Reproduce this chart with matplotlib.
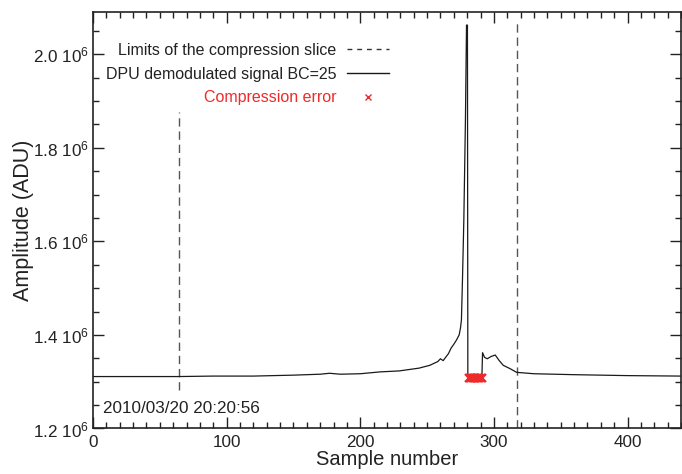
import numpy as np
import matplotlib
matplotlib.use('Agg')
import matplotlib.pyplot as plt
from matplotlib.ticker import MultipleLocator, FuncFormatter

plt.rcParams['font.family'] = ['Liberation Sans', 'DejaVu Sans']
plt.rcParams['mathtext.fontset'] = 'custom'
plt.rcParams['mathtext.rm'] = 'Liberation Sans'
plt.rcParams['mathtext.default'] = 'regular'

# DPU demodulated signal (amplitude in 1e6 ADU)
sample = [0, 20, 40, 64, 90, 120, 150, 170, 177, 185, 200, 215, 229, 244,
          252, 258, 260, 262, 266, 268, 270, 272, 274, 275, 275.7, 276.5,
          277.5, 278.7, 279.5, 280.2, 280.5, 291, 291.5, 293, 295, 298, 301,
          304, 307, 312, 317, 330, 360, 400, 440]
amp = [1.311, 1.311, 1.311, 1.311, 1.312, 1.312, 1.314, 1.316, 1.318, 1.316,
       1.317, 1.321, 1.323, 1.329, 1.335, 1.343, 1.349, 1.345, 1.360, 1.372,
       1.380, 1.389, 1.400, 1.415, 1.432, 1.52, 1.646, 1.86, 2.062, 2.062,
       1.308, 1.308, 1.362, 1.352, 1.349, 1.354, 1.357, 1.345, 1.335, 1.328,
       1.320, 1.317, 1.315, 1.313, 1.312]

# samples flagged with a compression error
err_sample = [281, 282, 283, 284, 285, 286, 287, 288, 289, 290, 291]
err_amp = [1.308, 1.308, 1.308, 1.308, 1.308, 1.308, 1.308, 1.308, 1.308, 1.308, 1.308]

# limits of the compression slice
slice_lo, slice_hi = 64, 317

amp = np.array(amp) * 1e6
err_amp = np.array(err_amp) * 1e6

txt = '#222222'
fig = plt.figure(figsize=(6.82, 4.74), dpi=100)
ax = fig.add_axes([0.1364, 0.096, 0.8621, 0.8787])

ax.vlines(slice_lo, 1.282e6, 1.877e6, color='#555555', lw=1.0,
          linestyles=(0, (6, 3.5)))
ax.vlines(slice_hi, 1.2e6, 2.075e6, color='#555555', lw=1.0,
          linestyles=(0, (6, 3.5)))
ax.plot(sample, amp, color='#1a1a1a', lw=0.9)
ax.plot(err_sample, err_amp, ls='none', marker='x', color='#ee2a2a',
        ms=5.5, mew=1.6)

# legend handles
h1, = ax.plot([], [], color='#333333', lw=1.0, ls=(0, (3.5, 3.5)))
h2, = ax.plot([], [], color='#1a1a1a', lw=1.0)
h3, = ax.plot([], [], ls='none', marker='x', color='#ee2a2a', ms=5, mew=1.0)
leg = ax.legend([h1, h2, h3],
                ['Limits of the compression slice',
                 'DPU demodulated signal BC=25',
                 'Compression error'],
                loc='upper right', bbox_to_anchor=(0.517, 0.945),
                frameon=False, markerfirst=False, fontsize=11.5,
                handlelength=2.6, handletextpad=0.7, labelspacing=0.55,
                borderpad=0, numpoints=1)
for t in leg.get_texts():
    t.set_color(txt)
leg.get_texts()[2].set_color('#ee2a2a')

ax.text(0.017, 0.047, '2010/03/20 20:20:56', transform=ax.transAxes,
        fontsize=12.3, color=txt, va='center', ha='left')

ax.set_xlim(0, 440)
ax.set_ylim(1.2e6, 2.09e6)
ax.xaxis.set_major_locator(MultipleLocator(100))
ax.xaxis.set_minor_locator(MultipleLocator(10))
ax.yaxis.set_major_locator(MultipleLocator(0.2e6))
ax.yaxis.set_minor_locator(MultipleLocator(0.05e6))
ax.yaxis.set_major_formatter(FuncFormatter(lambda v, p: f'{v/1e6:.1f} 10$^{{6}}$'))

ax.tick_params(which='both', direction='in', top=True, right=True,
               colors='#222222', labelsize=12.3, width=1.0)
ax.tick_params(which='major', length=8)
ax.tick_params(which='minor', length=4)
ax.tick_params(axis='x', pad=4.5)
ax.tick_params(axis='y', pad=3)
for s in ax.spines.values():
    s.set_linewidth(1.2)
    s.set_color('#222222')

ax.set_xlabel('Sample number', fontsize=14.5, color=txt, labelpad=0.5)
ax.set_ylabel('Amplitude (ADU)', fontsize=15.5, color=txt, labelpad=-1)

fig.savefig('out.png', dpi=100)
